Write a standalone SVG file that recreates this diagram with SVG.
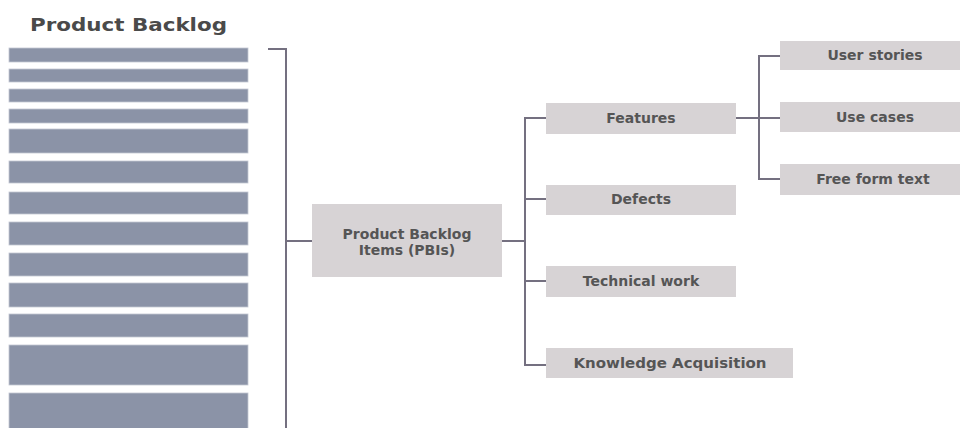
<svg xmlns="http://www.w3.org/2000/svg" width="960" height="428" viewBox="0 0 960 428">
<style>
.bar{fill:#8b93a7;stroke:#c3c7d2;stroke-width:0.8}
.box{fill:#d7d3d5}
.t{font-family:"DejaVu Sans","Liberation Sans",sans-serif;font-weight:bold;font-size:14px;fill:#555;text-anchor:middle;dominant-baseline:central}
.title{font-family:"DejaVu Sans","Liberation Sans",sans-serif;font-weight:bold;font-size:18px;fill:#4a4a4a}
.c{fill:none;stroke:#747080;stroke-width:2}
</style>
<rect width="960" height="428" fill="#fff"/>
<g id="backlog">
<text class="title" x="30" y="31" textLength="197" lengthAdjust="spacingAndGlyphs">Product Backlog</text>
<rect class="bar" x="9" y="48" width="239" height="14"/>
<rect class="bar" x="9" y="69" width="239" height="13"/>
<rect class="bar" x="9" y="89" width="239" height="13"/>
<rect class="bar" x="9" y="109" width="239" height="14"/>
<rect class="bar" x="9" y="129" width="239" height="24"/>
<rect class="bar" x="9" y="161" width="239" height="22"/>
<rect class="bar" x="9" y="192" width="239" height="22"/>
<rect class="bar" x="9" y="222" width="239" height="23"/>
<rect class="bar" x="9" y="253" width="239" height="23"/>
<rect class="bar" x="9" y="283" width="239" height="24"/>
<rect class="bar" x="9" y="314" width="239" height="23"/>
<rect class="bar" x="9" y="345" width="239" height="40"/>
<rect class="bar" x="9" y="393" width="239" height="40"/>
</g>
<g id="connectors">
<path class="c" d="M268,49 H286 V428"/>
<path class="c" d="M286,241 H312"/>
<path class="c" d="M502,241 H525"/>
<path class="c" d="M546,118 H525 V365 H546"/>
<path class="c" d="M525,199 H546"/>
<path class="c" d="M525,281 H546"/>
<path class="c" d="M736,118 H780"/>
<path class="c" d="M780,56 H759 V179 H780"/>
</g>
<g id="pbi">
<rect class="box" x="312" y="204" width="190" height="73"/>
<text class="t" x="407" y="234">Product Backlog</text>
<text class="t" x="407" y="250">Items (PBIs)</text>
</g>
<g id="features">
<rect class="box" x="546" y="103" width="190" height="31"/>
<text class="t" x="641" y="118">Features</text>
</g>
<g id="defects">
<rect class="box" x="546" y="185" width="190" height="30"/>
<text class="t" x="641" y="199">Defects</text>
</g>
<g id="technical">
<rect class="box" x="546" y="266" width="190" height="31"/>
<text class="t" x="641" y="281">Technical work</text>
</g>
<g id="knowledge">
<rect class="box" x="546" y="348" width="247" height="30"/>
<text class="t" x="670" y="363" textLength="193" lengthAdjust="spacingAndGlyphs">Knowledge Acquisition</text>
</g>
<g id="userstories">
<rect class="box" x="780" y="41" width="180" height="29"/>
<text class="t" x="875" y="55">User stories</text>
</g>
<g id="usecases">
<rect class="box" x="780" y="102" width="180" height="30"/>
<text class="t" x="875" y="117">Use cases</text>
</g>
<g id="freeform">
<rect class="box" x="780" y="164" width="180" height="31"/>
<text class="t" x="873" y="179">Free form text</text>
</g>
</svg>
